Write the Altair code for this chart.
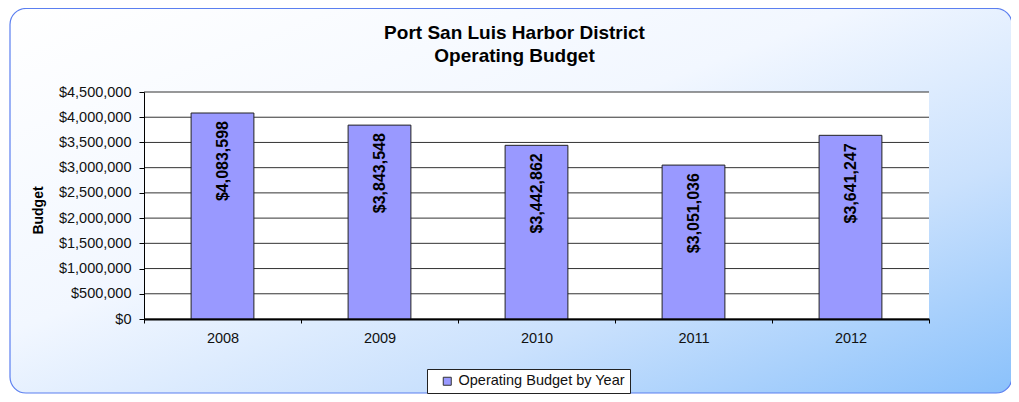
import altair as alt
import pandas as pd

years = ["2008", "2009", "2010", "2011", "2012"]
budgets = [4083598, 3843548, 3442862, 3051036, 3641247]
series_name = ["Operating Budget by Year"] * 5
y_ticks = [0, 500000, 1000000, 1500000, 2000000, 2500000, 3000000, 3500000, 4000000, 4500000]

W, H = 785, 227
FONT = "Liberation Sans"

df = pd.DataFrame({"year": years, "budget": budgets, "series": series_name})
grid_df = pd.DataFrame({"budget": y_ticks})
one = pd.DataFrame({"a": [0]})

x_enc = alt.X("year:N", scale=alt.Scale(paddingInner=0, paddingOuter=0),
              axis=alt.Axis(title=None, labelAngle=0, tickBand="extent", grid=False,
                            domainColor="black", domainWidth=2, tickColor="black",
                            tickSize=4, labelFont=FONT, labelFontSize=14.5,
                            labelColor="#111", labelPadding=8, zindex=1))
y_scale = alt.Scale(domain=[0, 4500000], nice=False, zero=True)
y_axis = alt.Axis(title="Budget", values=y_ticks, format="$,d", grid=False,
                  domainColor="black", tickColor="black", tickSize=5,
                  labelFont=FONT, labelFontSize=14.5, labelColor="#111",
                  labelPadding=8, titleFont=FONT, titleFontSize=14,
                  titleFontWeight="bold", titleColor="black",
                  titleAngle=270, titleAlign="center", titleBaseline="middle",
                  titleX=-106, titleY=118, zindex=1)
y_enc = alt.Y("budget:Q", scale=y_scale, axis=y_axis)

bg = alt.Chart(one).mark_rect(
    cornerRadius=16, stroke="#5b7ff0", strokeWidth=1.2,
    fill={"gradient": "linear", "x1": 0, "y1": 0, "x2": 1, "y2": 1,
          "stops": [{"offset": 0, "color": "#ffffff"},
                    {"offset": 0.42, "color": "#f2f7ff"},
                    {"offset": 0.7, "color": "#cae1fd"},
                    {"offset": 1, "color": "#8ac1fb"}]}
).encode(x=alt.value(-134), x2=alt.value(868), y=alt.value(-83.5), y2=alt.value(301))

plot_bg = alt.Chart(one).mark_rect(fill="white").encode(
    x=alt.value(0), x2=alt.value(W), y=alt.value(0), y2=alt.value(H))

grid = alt.Chart(grid_df).mark_rule(color="#333", strokeWidth=1).encode(y=y_enc)

bars = alt.Chart(df).mark_bar(width=alt.RelativeBandSize(0.4), stroke="#222",
                              strokeWidth=1).encode(
    x=x_enc, y=y_enc,
    color=alt.Color("series:N", scale=alt.Scale(range=["#9999ff"]),
                    legend=alt.Legend(title=None, orient="none", legendX=283, legendY=277,
                                      fillColor="white", strokeColor="#222", padding=5,
                                      symbolType="square", symbolSize=64,
                                      symbolStrokeColor="#333", symbolStrokeWidth=1,
                                      symbolOffset=8, labelFont=FONT, labelFontSize=14.5,
                                      labelColor="#111", labelOffset=4, labelLimit=400,
                                      zindex=1)))

labels = alt.Chart(df).mark_text(angle=270, align="right", baseline="middle", dx=-8,
                                 font=FONT, fontSize=16, fontWeight="bold",
                                 color="black").encode(
    x="year:N", y=y_enc, text=alt.Text("budget:Q", format="$,d"))

chart = alt.layer(bg, plot_bg, grid, bars, labels).properties(
    width=W, height=H,
    padding={"left": 136, "top": 84, "right": 82, "bottom": 75},
    autosize=alt.AutoSizeParams(type="none"),
    background="white",
    title=alt.Title(["Port San Luis Harbor District", "Operating Budget"],
                    font=FONT, fontSize=19, fontWeight="bold", color="black",
                    lineHeight=23, anchor="middle", dx=-22, offset=0, dy=58, zindex=1),
).configure_view(stroke=None)

chart.save("out.html", embed_options={"renderer": "svg", "actions": False})
